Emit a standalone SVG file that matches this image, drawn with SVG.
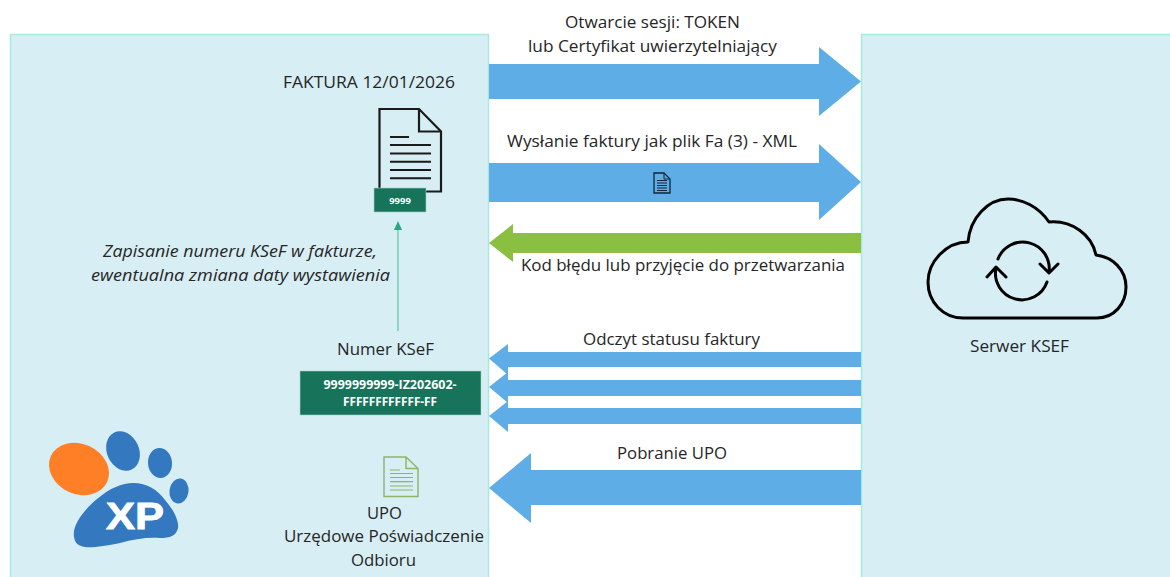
<svg xmlns="http://www.w3.org/2000/svg" width="1170" height="577" viewBox="0 0 1170 577">
<style>
text{font-family:"Open Sans","Noto Sans","DejaVu Sans",sans-serif;font-size:17px;fill:#262626}
.m{text-anchor:middle}
.i{font-style:italic}
.w{fill:#fff;font-weight:700;text-anchor:middle}
.panel{fill:#d7eef5;stroke:#a5eadb;stroke-width:1.5}
.blue{fill:#5fade6}
.green{fill:#8abf41}
.ln{fill:none;stroke:#1a1a1a;stroke-width:2.200}
.ic{fill:none;stroke:#000;stroke-width:3;stroke-linecap:round;stroke-linejoin:round}
.paw{fill:#3478c0}
.up{fill:none;stroke:#8db565;stroke-width:1.4}
.badge{fill:#17745a;stroke:#a9cfc5;stroke-width:.6}
</style>
<g id="panel-client"><rect class="panel" x="10.5" y="34.5" width="478" height="544"/></g>
<g id="panel-server"><rect class="panel" x="861.5" y="34.5" width="310" height="544"/></g>
<g id="connectors">
<polygon class="blue" points="489,64 819,64 819,47 861,81.5 819,116 819,99 489,99"/>
<polygon class="blue" points="489,163 819,163 819,144 861,182 819,220 819,202 489,202"/>
<polygon class="green" points="861,233 513,233 513,224 489,243 513,262 513,253 861,253"/>
<polygon class="blue" points="861,352 508,352 508,344 489,358.500 508,375 508,367 861,367"/>
<polygon class="blue" points="861,380 508,380 508,372 489,387 508,403 508,396 861,396"/>
<polygon class="blue" points="861,408 508,408 508,401 489,416 508,432 508,424 861,424"/>
<polygon class="blue" points="861,470 531,470 531,453 489,488 531,523 531,505 861,505"/>
<line x1="398" y1="331" x2="398" y2="229" stroke="#5cc4a6" stroke-width="1.200"/>
<polygon points="398,221 394,230 402,230" fill="#2aa882"/>
</g>
<g id="label-session"><text class="m" x="652.500" y="27.500" textLength="175" lengthAdjust="spacingAndGlyphs">Otwarcie sesji: TOKEN</text><text class="m" x="652.500" y="51.500" textLength="249" lengthAdjust="spacingAndGlyphs">lub Certyfikat uwierzytelniający</text></g>
<g id="label-send"><text class="m" x="652" y="147" textLength="290" lengthAdjust="spacingAndGlyphs">Wysłanie faktury jak plik Fa (3) - XML</text>
<g id="small-doc"><path d="M654,173H664L670,179V193H654Z" fill="#5fade6" stroke="#12253a" stroke-width="1.300"/><path d="M664,173V179H670" fill="none" stroke="#12253a" stroke-width="1"/><path d="M657,180.500H667M657,183H667M657,185.500H667M657,188H667M657,190.500H667" stroke="#12253a" stroke-width="1.100"/></g></g>
<g id="label-error"><text class="m" x="683" y="271" textLength="324" lengthAdjust="spacingAndGlyphs">Kod błędu lub przyjęcie do przetwarzania</text></g>
<g id="label-status"><text class="m" x="671.500" y="345" textLength="177" lengthAdjust="spacingAndGlyphs">Odczyt statusu faktury</text></g>
<g id="label-upo"><text class="m" x="672" y="459" textLength="110" lengthAdjust="spacingAndGlyphs">Pobranie UPO</text></g>
<g id="invoice">
<text class="m" x="369" y="88" textLength="172" lengthAdjust="spacingAndGlyphs">FAKTURA 12/01/2026</text>
<path class="ln" d="M379.500,109H419L441,131.500V191.500H379.500Z"/><path class="ln" d="M419,109V131.500H441"/>
<path d="M390,137H409M390,145H431M390,153.500H431M390,161.700H431M390,170H431M390,178.300H431" stroke="#1a1a1a" stroke-width="2" fill="none"/>
<rect class="badge" x="374" y="188" width="52" height="24"/>
<text class="w" x="400" y="204" style="font-size:9.500px">9999</text>
</g>
<g id="note"><text class="i" x="103" y="257" textLength="274" lengthAdjust="spacingAndGlyphs">Zapisanie numeru KSeF w fakturze,</text><text class="i" x="91" y="280.500" textLength="299" lengthAdjust="spacingAndGlyphs">ewentualna zmiana daty wystawienia</text></g>
<g id="ksef-number">
<text class="m" x="385.500" y="355" textLength="97" lengthAdjust="spacingAndGlyphs">Numer KSeF</text>
<rect class="badge" x="300" y="371" width="181" height="44"/>
<text class="w" x="390" y="389" textLength="133" lengthAdjust="spacingAndGlyphs" style="font-size:12px">9999999999-IZ202602-</text>
<text class="w" x="390" y="406" textLength="94" lengthAdjust="spacingAndGlyphs" style="font-size:12px">FFFFFFFFFFFF-FF</text>
</g>
<g id="upo">
<path class="up" d="M384,457H406L418,468.500V496.500H384Z"/><path class="up" d="M406,457V468.500H418"/>
<path d="M390,470H400M390,473.500H413M390,477.500H413M390,481.700H413M390,486H413M390,490H413" stroke="#8db565" stroke-width="1.200" fill="none"/>
<text class="m" x="384.500" y="519" textLength="35" lengthAdjust="spacingAndGlyphs">UPO</text><text class="m" x="384" y="542" textLength="200" lengthAdjust="spacingAndGlyphs">Urzędowe Poświadczenie</text><text class="m" x="383.500" y="566" textLength="65" lengthAdjust="spacingAndGlyphs">Odbioru</text>
</g>
<g id="server">
<path class="ic" d="M963,318H1097C1114,318 1126,304 1126,287C1126,270 1113,257 1096,255C1092,235 1072,220 1049,222C1038,206 1022,199 1008,199C988,199 970,218 968,242C946,242 928,262 928,282C928,302 943,318 963,318Z"/>
<path class="ic" d="M998,259A26.500,26.500 0 0 1 1049,272M1040,264L1049,273L1058,264"/>
<path class="ic" d="M1047,282A26.500,26.500 0 0 1 996,268M987,277L996,267L1006,277"/>
<text class="m" x="1019.500" y="352" textLength="99" lengthAdjust="spacingAndGlyphs">Serwer KSEF</text>
</g>
<g id="logo">
<ellipse cx="79" cy="469" rx="31" ry="25" transform="rotate(25 79 469)" fill="#ff7f27"/>
<ellipse class="paw" cx="123" cy="451" rx="16" ry="20.500" transform="rotate(-25 123 451)"/>
<ellipse class="paw" cx="160" cy="463" rx="12" ry="15" transform="rotate(-5 160 463)"/>
<ellipse class="paw" cx="179" cy="491" rx="9.500" ry="12.500" transform="rotate(8 179 491)"/>
<path class="paw" d="M74,537C72,525 84,510 97,499C110,488 122,483 133,483C147,483 158,490 165,500C173,509 179,520 178,528C176,536 170,538 160,538C148,537 134,539 120,543C105,546 92,548 85,547C78,546 75,543 74,537Z"/>
<text x="135" y="529" text-anchor="middle" textLength="58" lengthAdjust="spacingAndGlyphs" style="font-family:'Liberation Sans',sans-serif;font-size:36px;font-weight:700;fill:#fff;stroke:#fff;stroke-width:.8">XP</text>
</g>
</svg>
